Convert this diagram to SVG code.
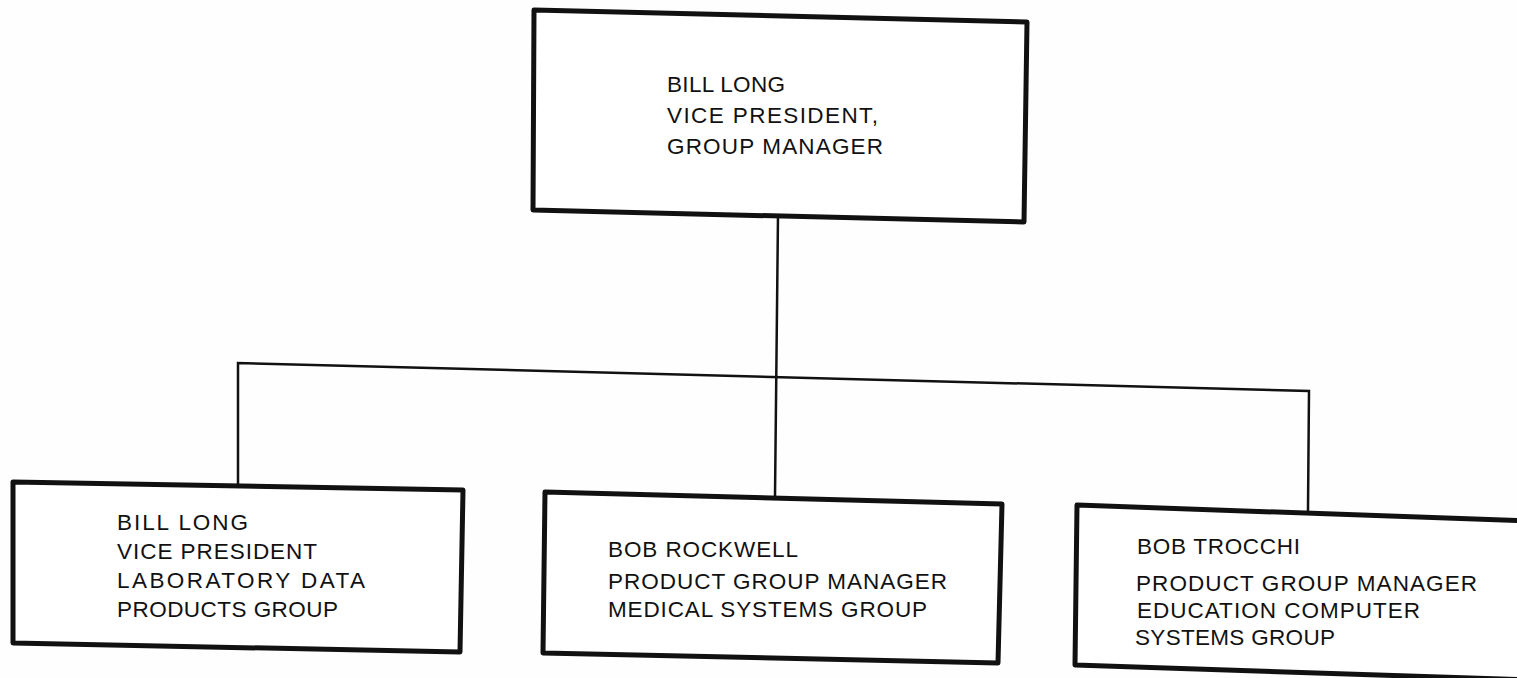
<svg xmlns="http://www.w3.org/2000/svg" width="1517" height="678" viewBox="0 0 1517 678">
<style>
.box{fill:#fff;stroke:#111;stroke-width:5;stroke-linejoin:round}
.conn{fill:none;stroke:#111;stroke-width:2.5;stroke-linecap:square}
.t{font-family:"Liberation Sans",Arial,sans-serif;font-size:22.5px;fill:#111}
</style>
<rect width="1517" height="678" fill="#fefefe"/>
<g id="connectors">
<path class="conn" d="M778,215 L775,497"/>
<path class="conn" d="M238,483 L238,363 L1309,391 L1308,510"/>
</g>
<g id="node-top">
<polygon class="box" points="534,10 1027,22 1024,222 533,210"/>
<text class="t" x="667" y="92" textLength="118" lengthAdjust="spacing">BILL LONG</text>
<text class="t" x="667" y="123" textLength="211" lengthAdjust="spacing">VICE PRESIDENT,</text>
<text class="t" x="667" y="154" textLength="216" lengthAdjust="spacing">GROUP MANAGER</text>
</g>
<g id="node-left">
<polygon class="box" points="13,482 463,490 460,652 13,643"/>
<text class="t" x="117" y="530" textLength="131" lengthAdjust="spacing">BILL LONG</text>
<text class="t" x="117" y="559" textLength="200" lengthAdjust="spacing">VICE PRESIDENT</text>
<text class="t" x="117" y="588" textLength="248" lengthAdjust="spacing">LABORATORY DATA</text>
<text class="t" x="117" y="617" textLength="221" lengthAdjust="spacing">PRODUCTS GROUP</text>
</g>
<g id="node-middle">
<polygon class="box" points="545,492 1002,504 998,663 543,653"/>
<text class="t" x="608" y="557" textLength="190" lengthAdjust="spacing">BOB ROCKWELL</text>
<text class="t" x="608" y="589" textLength="339" lengthAdjust="spacing">PRODUCT GROUP MANAGER</text>
<text class="t" x="608" y="617" textLength="319" lengthAdjust="spacing">MEDICAL SYSTEMS GROUP</text>
</g>
<g id="node-right">
<polygon class="box" points="1077,505 1530,521 1530,680 1075,665"/>
<text class="t" x="1137" y="554" textLength="163" lengthAdjust="spacing">BOB TROCCHI</text>
<text class="t" x="1136" y="591" textLength="341" lengthAdjust="spacing">PRODUCT GROUP MANAGER</text>
<text class="t" x="1137" y="618" textLength="283" lengthAdjust="spacing">EDUCATION COMPUTER</text>
<text class="t" x="1135" y="645" textLength="200" lengthAdjust="spacing">SYSTEMS GROUP</text>
</g>
</svg>
